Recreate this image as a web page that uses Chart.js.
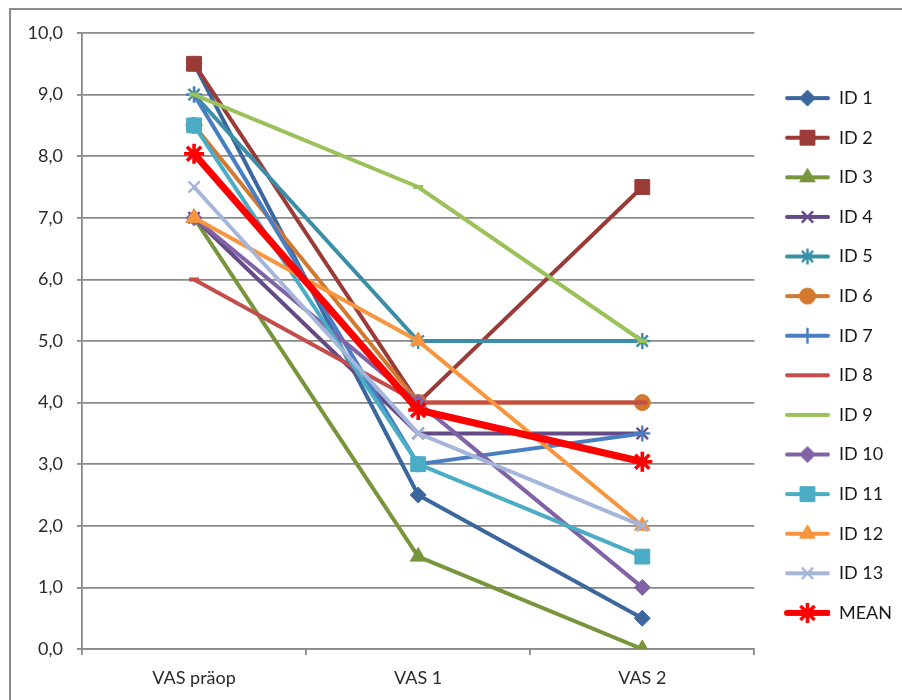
<!DOCTYPE html>
<html>
<head>
<meta charset="utf-8">
<script src="https://cdn.jsdelivr.net/npm/chart.js@4/dist/chart.umd.min.js"></script>
<style>
  html, body { margin: 0; padding: 0; background: #ffffff; }
  canvas { display: block; }
</style>
</head>
<body>
<canvas id="c" width="902" height="700"></canvas>
<script>
// VAS pain scores per patient, before surgery and at two follow-ups
const categories = ['VAS präop', 'VAS 1', 'VAS 2'];
const seriesNames = ['ID 1', 'ID 2', 'ID 3', 'ID 4', 'ID 5', 'ID 6', 'ID 7',
                     'ID 8', 'ID 9', 'ID 10', 'ID 11', 'ID 12', 'ID 13', 'MEAN'];

const id1  = [9.5, 2.5, 0.5];
const id2  = [9.5, 4.0, 7.5];
const id3  = [7.0, 1.5, 0.0];
const id4  = [7.0, 3.5, 3.5];
const id5  = [9.0, 5.0, 5.0];
const id6  = [8.5, 4.0, 4.0];
const id7  = [9.0, 3.0, 3.5];
const id8  = [6.0, 4.0, 4.0];
const id9  = [9.0, 7.5, 5.0];
const id10 = [7.0, 4.0, 1.0];
const id11 = [8.5, 3.0, 1.5];
const id12 = [7.0, 5.0, 2.0];
const id13 = [7.5, 3.5, 2.0];
const mean = [8.04, 3.88, 3.04];

const yTicks = [0, 1, 2, 3, 4, 5, 6, 7, 8, 9, 10];

const seriesValues = [id1, id2, id3, id4, id5, id6, id7, id8, id9, id10, id11, id12, id13, mean];

// styling per series
const colors = ['#3C679E', '#9A3B38', '#77963B', '#654B85', '#3A8EA5', '#D2782F', '#4A7EC2',
                '#C44D4A', '#9BC25A', '#8063A6', '#4BACC6', '#F7963E', '#A5B6DA', '#FF0000'];
const markers = ['rectRot', 'rect', 'triangle', 'crossRot', 'star', 'circle', 'cross',
                 'line', 'line', 'rectRot', 'rect', 'triangle', 'crossRot', 'star'];
const markerSize = [8, 10.5, 9, 8, 8, 8, 8, 5, 5, 8, 10.5, 9, 8, 10];
const lineWidths = [4, 4, 4, 4, 4, 4, 4, 4, 4, 4, 4, 4, 4, 7];

const FONT = 'Lato, "Open Sans", "DejaVu Sans", sans-serif';
const GRID = '#8a8a8a';

function isStroke(style) {
  return style === 'cross' || style === 'crossRot' || style === 'star' || style === 'line';
}
function markerBorder(i) {
  if (markers[i] === 'line') return 4;
  if (isStroke(markers[i])) return i === 13 ? 3.6 : 2.4;
  return 1;
}

// legend key: short line with the series marker in the middle
function legendIcon(i) {
  const W = 54, H = 22, margin = 9;
  const cv = document.createElement('canvas');
  cv.width = W; cv.height = H;
  const g = cv.getContext('2d');
  g.strokeStyle = colors[i];
  g.fillStyle = colors[i];
  g.lineCap = 'round';
  g.lineWidth = i === 13 ? 6 : 4;
  g.beginPath();
  g.moveTo(margin + 2, H / 2);
  g.lineTo(W - 2, H / 2);
  g.stroke();
  if (markers[i] !== 'line' && Chart.helpers && Chart.helpers.drawPoint) {
    g.lineCap = 'butt';
    g.lineWidth = markerBorder(i);
    Chart.helpers.drawPoint(g, {
      pointStyle: markers[i],
      radius: markerSize[i],
      rotation: 0,
      borderWidth: markerBorder(i)
    }, margin + (W - margin) / 2, H / 2);
  }
  return cv;
}

const datasets = seriesValues.map((vals, i) => ({
  label: seriesNames[i],
  data: vals,
  borderColor: colors[i],
  backgroundColor: colors[i],
  borderWidth: lineWidths[i],
  pointStyle: markers[i],
  pointRadius: markerSize[i],
  pointHoverRadius: markerSize[i],
  pointBackgroundColor: colors[i],
  pointBorderColor: colors[i],
  pointBorderWidth: markerBorder(i),
  tension: 0,
  fill: false,
  order: seriesValues.length - i
}));

// outer frame of the chart area
const framePlugin = {
  id: 'frame',
  beforeDraw(chart) {
    const ctx = chart.ctx;
    ctx.save();
    ctx.strokeStyle = '#8c8c8c';
    ctx.lineWidth = 2;
    ctx.beginPath();
    ctx.moveTo(10, 702);
    ctx.lineTo(10, 9);
    ctx.lineTo(904, 9);
    ctx.stroke();
    ctx.restore();
  }
};

new Chart(document.getElementById('c'), {
  type: 'line',
  data: { labels: categories, datasets },
  plugins: [framePlugin],
  options: {
    responsive: false,
    animation: false,
    events: [],
    layout: { padding: { top: 11, left: 10, right: 0, bottom: 0 } },
    plugins: {
      tooltip: { enabled: false },
      // empty spacer above the plot only (legend keeps the full height)
      title: {
        display: true,
        text: '',
        fullSize: false,
        font: { family: FONT, size: 10 },
        padding: { top: 0, bottom: 10 }
      },
      legend: {
        position: 'right',
        align: 'center',
        labels: {
          usePointStyle: true,
          pointStyleWidth: 54,
          padding: 21.6,
          color: '#1a1a1a',
          font: { family: FONT, size: 18 },
          generateLabels(chart) {
            return chart.data.datasets.map((ds, i) => ({
              text: ds.label,
              datasetIndex: i,
              pointStyle: legendIcon(i),
              fillStyle: colors[i],
              strokeStyle: colors[i],
              lineWidth: 0,
              fontColor: '#1a1a1a',
              hidden: false
            }));
          }
        }
      }
    },
    scales: {
      x: {
        offset: true,
        afterFit(s) { s.height = 51; },
        grid: {
          offset: true,
          drawOnChartArea: false,
          drawTicks: true,
          tickLength: 6,
          color: GRID,
          lineWidth: 1.8
        },
        border: { display: true, color: GRID, width: 1.8 },
        ticks: {
          padding: 12,
          color: '#2b2b2b',
          font: { family: FONT, size: 18 },
          maxRotation: 0
        }
      },
      y: {
        min: yTicks[0],
        max: yTicks[yTicks.length - 1],
        afterFit(s) { s.width = 72; },
        afterBuildTicks(s) { s.ticks = yTicks.map(v => ({ value: v })); },
        grid: {
          color: GRID,
          lineWidth: 1.8,
          drawTicks: true,
          tickLength: 5
        },
        border: { display: true, color: GRID, width: 1.8 },
        ticks: {
          padding: 14,
          color: '#2b2b2b',
          font: { family: FONT, size: 18 },
          callback: v => v.toFixed(1).replace('.', ',')
        }
      }
    }
  }
});
</script>
</body>
</html>
